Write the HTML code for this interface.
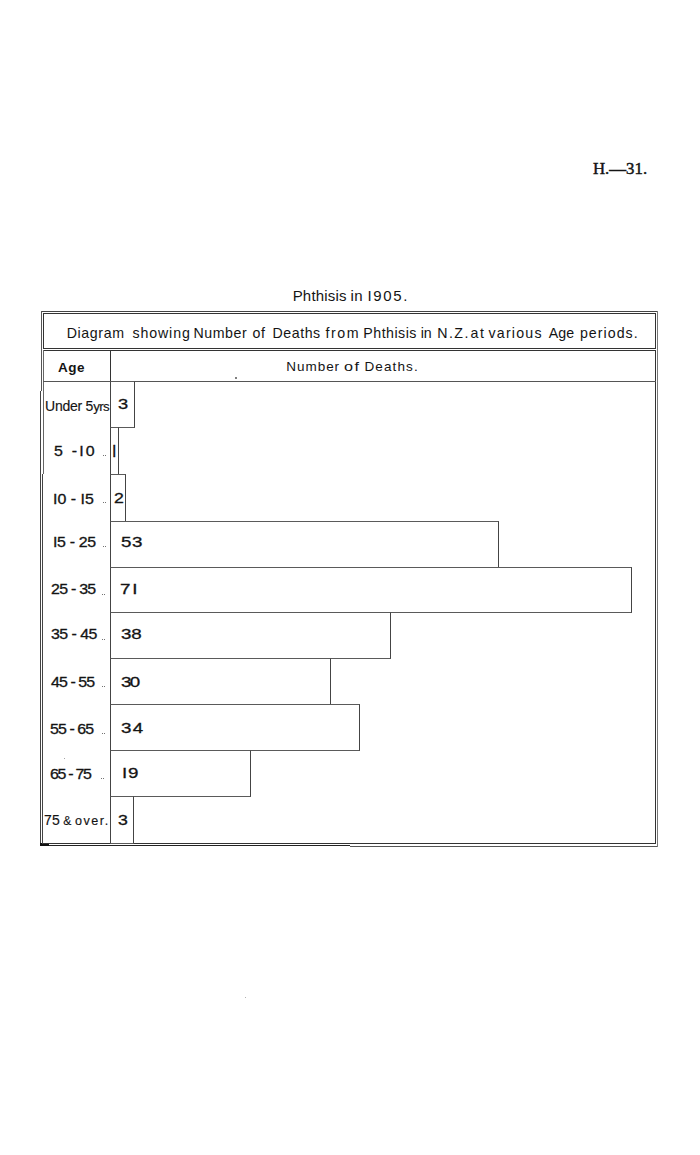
<!DOCTYPE html>
<html>
<head>
<meta charset="utf-8">
<style>
html,body{margin:0;padding:0;background:#fff;}
body{width:700px;height:1155px;position:relative;overflow:hidden;font-family:"Liberation Sans",sans-serif;color:#141414;}
.h{position:absolute;height:1px;background:#333;}
.v{position:absolute;width:1px;background:#333;}
.t{position:absolute;white-space:nowrap;line-height:1;transform-origin:0 0;}
.bar{position:absolute;box-sizing:border-box;border:1px solid #444;border-top-color:#5a5a5a;border-bottom-color:#5a5a5a;}
.dt{position:absolute;width:1.6px;height:1.6px;background:#555;border-radius:1px;}
.dd{position:absolute;width:1.3px;height:1.6px;background:#444;border-radius:0.7px;}
</style>
</head>
<body>
<div class="h" style="left:41px;top:311px;width:617px;background:#444;"></div>
<div class="h" style="left:40px;top:845px;width:310px;background:#222;"></div>
<div class="h" style="left:350px;top:846px;width:308px;background:#555;"></div>
<div class="v" style="left:41px;top:311px;height:80px;background:#555;"></div>
<div class="v" style="left:40px;top:391px;height:455px;background:#444;"></div>
<div class="v" style="left:657px;top:311px;height:536px;background:#777;"></div>
<div style="position:absolute;left:40px;top:843px;width:9px;height:3px;background:#111;"></div>
<div class="h" style="left:43px;top:313px;width:613px;"></div>
<div class="h" style="left:43px;top:348px;width:613px;"></div>
<div class="v" style="left:43px;top:313px;height:36px;"></div>
<div class="v" style="left:655px;top:313px;height:36px;"></div>
<div class="h" style="left:43px;top:350px;width:613px;"></div>
<div class="h" style="left:43px;top:843px;width:613px;"></div>
<div class="v" style="left:43px;top:350px;height:124px;background:#666;"></div>
<div class="v" style="left:42px;top:474px;height:370px;background:#444;"></div>
<div class="v" style="left:655px;top:350px;height:494px;"></div>
<div class="h" style="left:43px;top:381px;width:613px;background:#555;"></div>
<div class="v" style="left:110px;top:350px;height:494px;"></div>
<div class="dt" style="left:235px;top:377px;"></div>
<div class="dt" style="left:64px;top:758px;width:1.2px;height:1.2px;background:#888;"></div>
<div class="dt" style="left:245px;top:997px;width:1.2px;height:1.2px;background:#999;"></div>
<div class="bar" style="left:110px;top:381px;width:25px;height:47px;"></div>
<div class="bar" style="left:110px;top:427px;width:9px;height:48px;"></div>
<div class="bar" style="left:110px;top:474px;width:16px;height:48px;"></div>
<div class="bar" style="left:110px;top:521px;width:389px;height:47px;"></div>
<div class="bar" style="left:110px;top:567px;width:522px;height:46px;"></div>
<div class="bar" style="left:110px;top:612px;width:281px;height:47px;"></div>
<div class="bar" style="left:110px;top:658px;width:221px;height:47px;"></div>
<div class="bar" style="left:110px;top:704px;width:250px;height:47px;"></div>
<div class="bar" style="left:110px;top:750px;width:141px;height:47px;"></div>
<div class="bar" style="left:110px;top:796px;width:24px;height:48px;"></div>
<div class="dd" style="left:102.6px;top:454.6px;"></div>
<div class="dd" style="left:104.7px;top:454.6px;"></div>
<div class="dd" style="left:102.6px;top:501.6px;"></div>
<div class="dd" style="left:104.7px;top:501.6px;"></div>
<div class="dd" style="left:102.6px;top:545.6px;"></div>
<div class="dd" style="left:104.7px;top:545.6px;"></div>
<div class="dd" style="left:101.6px;top:593.6px;"></div>
<div class="dd" style="left:103.7px;top:593.6px;"></div>
<div class="dd" style="left:101.6px;top:638.6px;"></div>
<div class="dd" style="left:103.7px;top:638.6px;"></div>
<div class="dd" style="left:101.6px;top:685.6px;"></div>
<div class="dd" style="left:103.7px;top:685.6px;"></div>
<div class="dd" style="left:101.6px;top:732.6px;"></div>
<div class="dd" style="left:103.7px;top:732.6px;"></div>
<div class="dd" style="left:100.6px;top:777.6px;"></div>
<div class="dd" style="left:102.7px;top:777.6px;"></div>
<div class="t" id="ti0" style="left:292.70px;top:288.00px;font-size:15.00px;letter-spacing:0.182px;">Phthisis</div>
<div class="t" id="ti1" style="left:350.50px;top:288.00px;font-size:15.00px;letter-spacing:0.521px;">in</div>
<div class="t" id="ti2" style="left:367.50px;top:288.00px;font-size:15.00px;letter-spacing:1.621px;">I905.</div>
<div class="t" id="cw0" style="left:66.70px;top:325.70px;font-size:14.20px;letter-spacing:0.613px;">Diagram</div>
<div class="t" id="cw1" style="left:132.50px;top:325.70px;font-size:14.20px;letter-spacing:0.876px;">showing</div>
<div class="t" id="cw2" style="left:193.50px;top:325.70px;font-size:14.20px;letter-spacing:0.543px;">Number</div>
<div class="t" id="cw3" style="left:252.50px;top:325.70px;font-size:14.20px;letter-spacing:0.543px;">of</div>
<div class="t" id="cw4" style="left:272.50px;top:325.70px;font-size:14.20px;letter-spacing:0.543px;">Deaths</div>
<div class="t" id="cw5" style="left:325.50px;top:325.70px;font-size:14.20px;letter-spacing:1.543px;">from</div>
<div class="t" id="cw6" style="left:363.30px;top:325.70px;font-size:14.20px;letter-spacing:0.490px;">Phthisis</div>
<div class="t" id="cw7" style="left:420.70px;top:325.70px;font-size:14.20px;letter-spacing:-0.057px;">in</div>
<div class="t" id="cw8" style="left:437.30px;top:325.70px;font-size:14.20px;letter-spacing:1.413px;">N.Z.</div>
<div class="t" id="cw9" style="left:470.50px;top:325.70px;font-size:14.20px;letter-spacing:1.543px;">at</div>
<div class="t" id="cw10" style="left:488.50px;top:325.70px;font-size:14.20px;letter-spacing:1.209px;">various</div>
<div class="t" id="cw11" style="left:548.70px;top:325.70px;font-size:14.20px;letter-spacing:0.143px;">Age</div>
<div class="t" id="cw12" style="left:579.90px;top:325.70px;font-size:14.20px;letter-spacing:1.045px;">periods.</div>
<div class="t" id="nd0" style="left:286.30px;top:360.30px;font-size:13.50px;letter-spacing:0.958px;">Number</div>
<div class="t" id="nd1" style="left:343.80px;top:360.30px;font-size:13.50px;letter-spacing:1.200px;transform:scaleX(1.200);">of</div>
<div class="t" id="nd2" style="left:364.50px;top:360.30px;font-size:13.50px;letter-spacing:1.101px;">Deaths.</div>
<div class="t" id="H31" style="left:593.00px;top:161.00px;font-size:16.80px;letter-spacing:0.000px;font-family:'Liberation Serif',serif;-webkit-text-stroke:0.45px #141414;">H.—31.</div>
<div class="t" id="Age" style="left:58.00px;top:361.00px;font-size:13.50px;letter-spacing:0.500px;font-weight:bold;">Age</div>
<div class="t" id="Under" style="left:45.00px;top:399.00px;font-size:14.00px;letter-spacing:-0.234px;-webkit-text-stroke:0.15px #141414;">Under 5<span style="letter-spacing:-0.6px;font-size:0.95em">yrs</span></div>
<div class="t" id="l5-10" style="left:54.00px;top:444.00px;font-size:14.50px;letter-spacing:2.000px;transform:scaleX(1.100);-webkit-text-stroke:0.30px #141414;">5 -I0</div>
<div class="t" id="l10-15" style="left:53.00px;top:492.00px;font-size:14.50px;letter-spacing:-0.000px;transform:scaleX(1.100);-webkit-text-stroke:0.30px #141414;">I0 - I5</div>
<div class="t" id="l15-25" style="left:53.00px;top:535.00px;font-size:14.50px;letter-spacing:-0.326px;transform:scaleX(1.100);-webkit-text-stroke:0.30px #141414;">I5 - 25</div>
<div class="t" id="l25-35" style="left:51.00px;top:582.00px;font-size:14.50px;letter-spacing:-0.677px;transform:scaleX(1.100);-webkit-text-stroke:0.30px #141414;">25 - 35</div>
<div class="t" id="l35-45" style="left:51.00px;top:627.00px;font-size:14.50px;letter-spacing:-0.496px;transform:scaleX(1.100);-webkit-text-stroke:0.30px #141414;">35 - 45</div>
<div class="t" id="l45-55" style="left:51.00px;top:675.00px;font-size:14.50px;letter-spacing:-0.841px;transform:scaleX(1.100);-webkit-text-stroke:0.30px #141414;">45 - 55</div>
<div class="t" id="l55-65" style="left:50.00px;top:722.00px;font-size:14.50px;letter-spacing:-0.826px;transform:scaleX(1.100);-webkit-text-stroke:0.30px #141414;">55 - 65</div>
<div class="t" id="l65-75" style="left:50.00px;top:767.00px;font-size:14.50px;letter-spacing:-1.174px;transform:scaleX(1.100);-webkit-text-stroke:0.30px #141414;">65 - 75</div>
<div class="t" id="l75over" style="left:44.00px;top:813.00px;font-size:14.00px;letter-spacing:0.300px;-webkit-text-stroke:0.15px #141414;">75<span style="font-size:0.86em;margin-left:3px;">&amp;</span><span style="font-size:0.9em;letter-spacing:1.5px;margin-left:3.5px">over.</span></div>
<div class="t" id="n3" style="left:118.00px;top:396.00px;font-size:15.50px;letter-spacing:0.000px;transform:scaleX(1.180);-webkit-text-stroke:0.30px #141414;">3</div>
<div class="t" id="n1" style="left:112.00px;top:444.00px;font-size:16.00px;letter-spacing:0.000px;-webkit-text-stroke:0.30px #141414;">I</div>
<div class="t" id="n2" style="left:114.00px;top:490.00px;font-size:15.00px;letter-spacing:0.000px;transform:scaleX(1.180);-webkit-text-stroke:0.30px #141414;">2</div>
<div class="t" id="n53" style="left:121.00px;top:534.00px;font-size:15.00px;letter-spacing:0.500px;transform:scaleX(1.250);-webkit-text-stroke:0.30px #141414;">53</div>
<div class="t" id="n71" style="left:120.00px;top:581.00px;font-size:15.00px;letter-spacing:1.400px;transform:scaleX(1.250);-webkit-text-stroke:0.30px #141414;">7I</div>
<div class="t" id="n38" style="left:121.00px;top:626.00px;font-size:15.00px;letter-spacing:-0.100px;transform:scaleX(1.250);-webkit-text-stroke:0.30px #141414;">38</div>
<div class="t" id="n30" style="left:121.00px;top:674.00px;font-size:15.00px;letter-spacing:-1.400px;transform:scaleX(1.250);-webkit-text-stroke:0.30px #141414;">30</div>
<div class="t" id="n34" style="left:121.00px;top:720.00px;font-size:15.00px;letter-spacing:1.000px;transform:scaleX(1.250);-webkit-text-stroke:0.30px #141414;">34</div>
<div class="t" id="n19" style="left:122.00px;top:765.00px;font-size:15.00px;letter-spacing:0.700px;transform:scaleX(1.250);-webkit-text-stroke:0.30px #141414;">I9</div>
<div class="t" id="n3b" style="left:118.00px;top:812.00px;font-size:15.00px;letter-spacing:0.000px;transform:scaleX(1.180);-webkit-text-stroke:0.30px #141414;">3</div>
</body>
</html>
